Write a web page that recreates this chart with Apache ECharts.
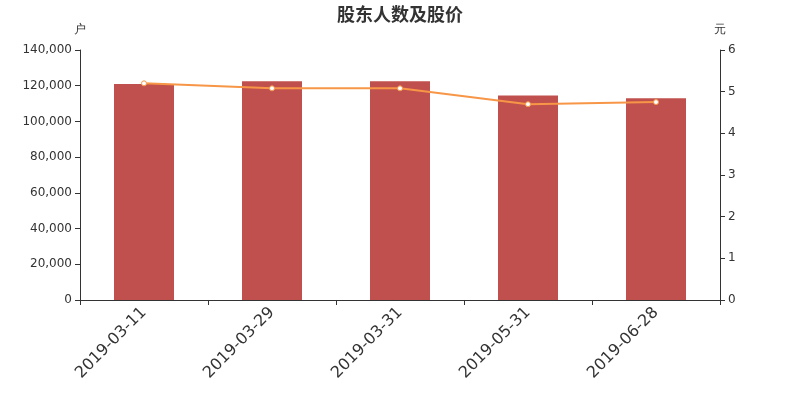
<!DOCTYPE html>
<html><head><meta charset="utf-8">
<script src="https://cdn.jsdelivr.net/npm/echarts@6/dist/echarts.min.js"></script>
<style>html,body{margin:0;padding:0;background:#fff}#c{width:800px;height:400px}</style>
</head><body><div id="c"></div>
<script>
const categories = ['2019-03-11','2019-03-29','2019-03-31','2019-05-31','2019-06-28'];
const holders = [121000, 122500, 122500, 114500, 113000];
const prices = [5.20, 5.08, 5.08, 4.70, 4.75];
const leftTicks = [0, 20000, 40000, 60000, 80000, 100000, 120000, 140000];
const rightTicks = [0, 1, 2, 3, 4, 5, 6];

const chart = echarts.init(document.getElementById('c'));
chart.setOption({
  animation: false,
  backgroundColor: '#fff',
  title: { text: '股东人数及股价', left: 'center', top: 0,
    textStyle: { fontSize: 18, fontWeight: 'bold', color: '#333', fontFamily: 'Noto Sans CJK SC' } },
  grid: { left: 80, right: 80, top: 50, bottom: 100 },
  xAxis: {
    type: 'category', data: categories, boundaryGap: true,
    axisLine: { lineStyle: { color: '#333' } },
    axisTick: { show: true, alignWithLabel: false, lineStyle: { color: '#333' } },
    axisLabel: { rotate: 45, fontSize: 16, color: '#333', margin: 10, fontFamily: 'DejaVu Sans' }
  },
  yAxis: [{
    type: 'value', min: leftTicks[0], max: leftTicks[leftTicks.length-1], interval: 20000,
    name: '户', nameGap: 14, nameTextStyle: { color: '#333', fontSize: 12, align: 'center' },
    axisLine: { show: true, lineStyle: { color: '#333' } },
    axisTick: { show: true, lineStyle: { color: '#333' } },
    splitLine: { show: false },
    axisLabel: { color: '#333', fontSize: 12, fontFamily: 'DejaVu Sans',
      formatter: v => v.toLocaleString('en-US') }
  }, {
    type: 'value', min: rightTicks[0], max: rightTicks[rightTicks.length-1], interval: 1,
    name: '元', nameGap: 14, nameTextStyle: { color: '#333', fontSize: 12, align: 'center' },
    axisLine: { show: true, lineStyle: { color: '#333' } },
    axisTick: { show: true, lineStyle: { color: '#333' } },
    splitLine: { show: false },
    axisLabel: { color: '#333', fontSize: 12, fontFamily: 'DejaVu Sans' }
  }],
  series: [{
    type: 'bar', data: holders, yAxisIndex: 0, barWidth: 60,
    itemStyle: { color: '#c0504d' }
  }, {
    type: 'line', data: prices, yAxisIndex: 1,
    symbol: 'circle', symbolSize: 5,
    lineStyle: { color: '#f79646', width: 2 },
    itemStyle: { color: '#fff', borderColor: '#f79646', borderWidth: 1 }
  }]
});
</script></body></html>
